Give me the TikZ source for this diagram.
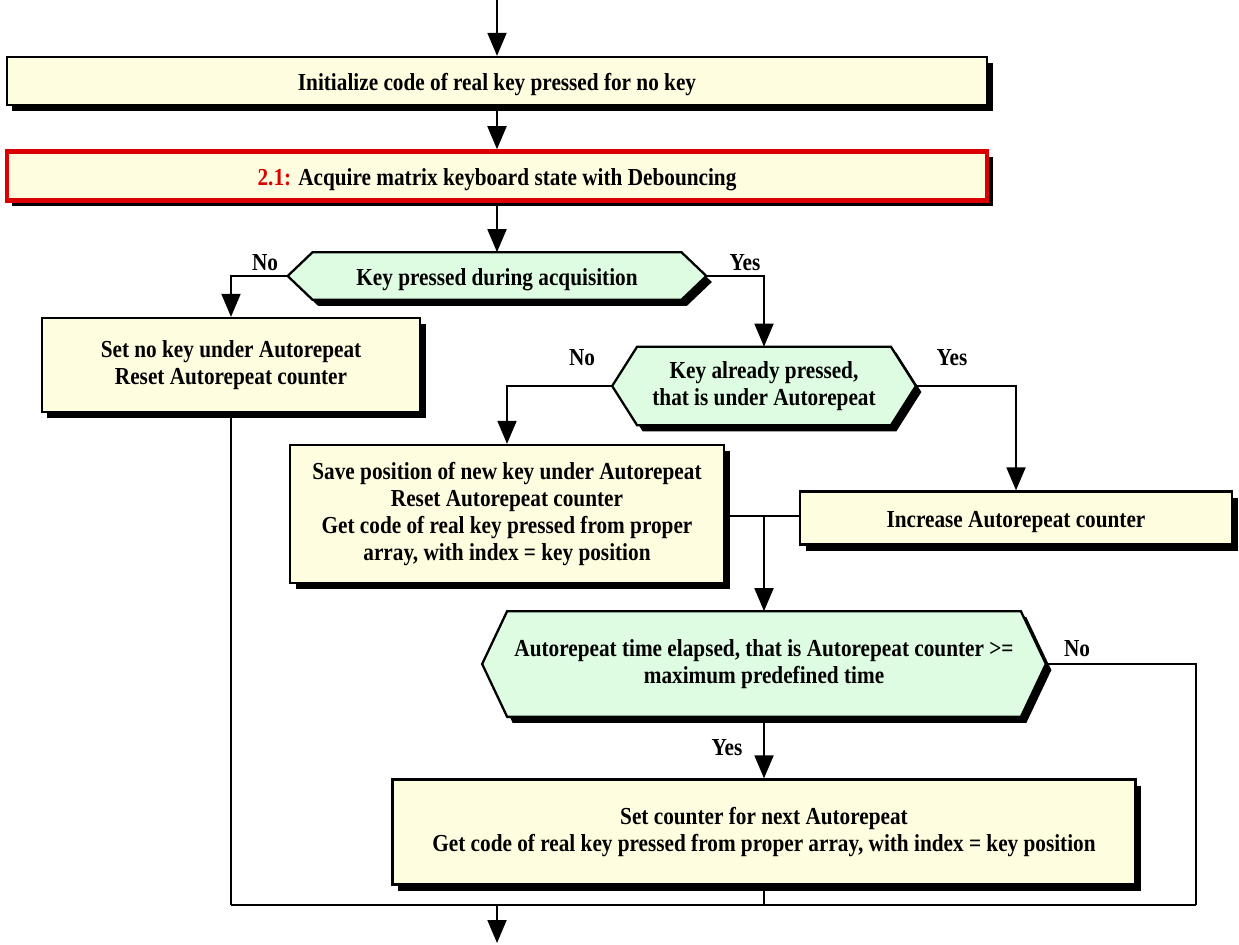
\documentclass[tikz,border=0pt]{standalone}
\usepackage{fontspec}
\setmainfont{Liberation Serif}[FakeStretch=0.87]
\usepackage{tikz}
\usetikzlibrary{arrows.meta,shadows,backgrounds}

\definecolor{boxfill}{RGB}{255,253,224}
\definecolor{testfill}{RGB}{222,252,226}
\definecolor{stepred}{RGB}{221,0,0}
\newcommand{\pxu}{0.02cm}

\tikzset{
  every node/.style={font=\fontsize{13.9}{15.3}\selectfont\bfseries},
  blackshadow/.style={drop shadow={shadow xshift=0.11cm,shadow yshift=-0.12cm,fill=black,opacity=1}},
  action/.style={rectangle,draw,line width=1.3pt,fill=boxfill,align=center,inner sep=0pt,blackshadow},
  substep/.style={action,draw=stepred,line width=2.6pt},
  test/.style={rectangle,align=center,inner sep=0pt},
  testedge/.style={draw,line width=1.3pt,fill=testfill,line join=miter,blackshadow},
  oneline/.style={text height=14pt},
  link/.style={line width=1.1pt},
  flow/.style={line width=1.1pt,-{Triangle[length=0.46cm,width=0.38cm]}}
}

\begin{document}
\begin{tikzpicture}[x=\pxu,y=-\pxu]

\useasboundingbox (0,0) rectangle (1239,945);

\node (init) at (497,81) [action,oneline,minimum width={980*\pxu},minimum height={48*\pxu}] {Initialize code of real key pressed for no key};

\node (acquire) at (497,176) [substep,oneline,minimum width={980*\pxu},minimum height={49*\pxu}] {\textcolor{stepred}{2.1:} Acquire matrix keyboard state with Debouncing};

\node (press) at (497,276) [test,oneline,minimum width={418*\pxu},minimum height={47*\pxu}] {Key pressed during acquisition};

\node (nokey) at (231,365) [action,minimum width={378*\pxu},minimum height={94*\pxu}] {Set no key under Autorepeat\\Reset Autorepeat counter};

\node (already) at (764,386) [test,minimum width={303*\pxu},minimum height={78*\pxu}] {Key already pressed,\\that is under Autorepeat};

\node (save) at (507,514) [action,minimum width={434*\pxu},minimum height={138*\pxu}] {Save position of new key under Autorepeat\\Reset Autorepeat counter\\Get code of real key pressed from proper\\array, with index = key position};

\node (incr) at (1016,518) [action,oneline,minimum width={432*\pxu},minimum height={53*\pxu}] {Increase Autorepeat counter};

\node (elapsed) at (764,664) [test,minimum width={563*\pxu},minimum height={105*\pxu}] {Autorepeat time elapsed, that is Autorepeat counter >=\\maximum predefined time};

\node (setcnt) at (764,832) [action,minimum width={743*\pxu},minimum height={105*\pxu}] {Set counter for next Autorepeat\\Get code of real key pressed from proper array, with index = key position};

% decision outlines
\begin{scope}[on background layer]
\foreach \t in {press,already,elapsed}
  \draw[testedge] ([xshift=0.5cm]\t.north west) -- ([xshift=-0.5cm]\t.north east) -- (\t.east) -- ([xshift=-0.5cm]\t.south east) -- ([xshift=0.5cm]\t.south west) -- (\t.west) -- cycle;
\end{scope}

\node (no1) at (265,263) {No};
\node (yes1) at (745,263) {Yes};
\node (no2) at (582,358) {No};
\node (yes2) at (952,358) {Yes};
\node (no3) at (1077,649) {No};
\node (yes3) at (727,748) {Yes};

\coordinate (start) at (497,0);
\coordinate (join) at (764,516);
\coordinate (mergeL) at (231,905);
\coordinate (mergeM) at (497,905);
\coordinate (mergeR) at (1196,905);
\coordinate (stop) at (497,943);

\draw[flow] (start) -- (init.north);
\draw[flow] (init.south) -- (acquire.north);
\draw[flow] (acquire.south) -- (press.north);
\draw[flow] (press.west) -| (nokey.north);
\draw[flow] (press.east) -| (already.north);
\draw[flow] (already.west) -| (save.north);
\draw[flow] (already.east) -| (incr.north);
\draw[link] (save.east |- join) -- (incr.west |- join);
\draw[flow] (join) -- (elapsed.north);
\draw[flow] (elapsed.south) -- (setcnt.north);
\draw[link] (elapsed.east) -| (mergeR);
\draw[link] (nokey.south) -- (mergeL);
\draw[link] (setcnt.south) -- (setcnt.south |- mergeL);
\draw[link] (mergeL) -- (mergeR);
\draw[flow] (mergeM) -- (stop);

\end{tikzpicture}
\end{document}
